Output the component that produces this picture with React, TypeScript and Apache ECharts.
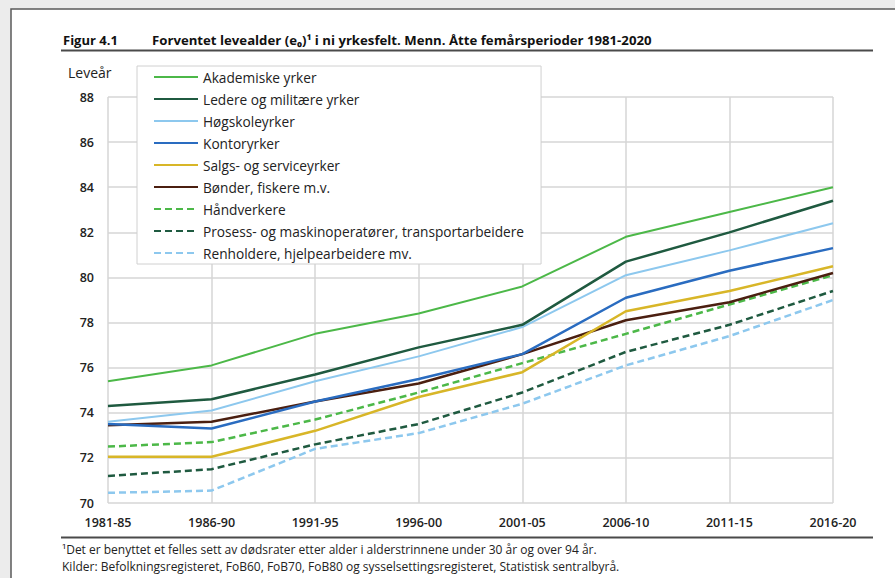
import React, { useEffect, useRef } from "react";
import * as echarts from "echarts";

const categories = ["1981-85", "1986-90", "1991-95", "1996-00", "2001-05", "2006-10", "2011-15", "2016-20"];
const yTicks = [70, 72, 74, 76, 78, 80, 82, 84, 86, 88];

const seriesNames = [
  "Akademiske yrker",
  "Ledere og militære yrker",
  "Høgskoleyrker",
  "Kontoryrker",
  "Salgs- og serviceyrker",
  "Bønder, fiskere m.v.",
  "Håndverkere",
  "Prosess- og maskinoperatører, transportarbeidere",
  "Renholdere, hjelpearbeidere mv.",
];

const akademiske = [75.4, 76.1, 77.5, 78.4, 79.6, 81.8, 82.9, 84.0];
const ledere = [74.3, 74.6, 75.7, 76.9, 77.9, 80.7, 82.0, 83.4];
const hogskole = [73.6, 74.1, 75.4, 76.5, 77.8, 80.1, 81.2, 82.4];
const kontor = [73.5, 73.3, 74.5, 75.5, 76.6, 79.1, 80.3, 81.3];
const salgs = [72.05, 72.05, 73.2, 74.7, 75.8, 78.5, 79.4, 80.5];
const bonder = [73.45, 73.6, 74.5, 75.3, 76.6, 78.1, 78.9, 80.2];
const handverkere = [72.5, 72.7, 73.7, 74.9, 76.2, 77.5, 78.8, 80.1];
const prosess = [71.2, 71.5, 72.6, 73.5, 74.9, 76.7, 77.9, 79.4];
const renholdere = [70.45, 70.55, 72.4, 73.1, 74.4, 76.1, 77.4, 79.0];

const seriesData = [akademiske, ledere, hogskole, kontor, salgs, bonder, handverkere, prosess, renholdere];
const seriesColors = ["#4cb848", "#1f5a40", "#8dc8ee", "#2a6cc0", "#d8b628", "#4b1f10", "#4cb848", "#1f5a40", "#8dc8ee"];
const seriesDashed = [false, false, false, false, false, false, true, true, true];
const seriesWidths = [2, 2.5, 2, 2.5, 2.5, 2.5, 2.5, 2.5, 2.5];

const FONT = "'Open Sans', sans-serif";

export default function App() {
  const ref = useRef<HTMLDivElement>(null);
  useEffect(() => {
    if (!ref.current) return;
    const chart = echarts.init(ref.current, undefined, { renderer: "svg" });
    chart.setOption({
      animation: false,
      backgroundColor: "#ececec",
      textStyle: { fontFamily: FONT },
      graphic: [
        {
          type: "rect",
          shape: { x: 11, y: 9, width: 900, height: 600 },
          style: { fill: "#ffffff", stroke: "#5a5a5a", lineWidth: 1.5 },
          z: -10,
        },
        {
          type: "text",
          x: 63,
          y: 40,
          style: { text: "Figur 4.1", font: `bold 13px ${FONT}`, fill: "#111", textVerticalAlign: "middle" },
        },
        {
          type: "text",
          x: 152,
          y: 40,
          style: {
            text: "Forventet levealder (e₀)¹ i ni yrkesfelt. Menn. Åtte femårsperioder 1981-2020",
            font: `bold 13.2px ${FONT}`,
            fill: "#111",
            textVerticalAlign: "middle",
          },
        },
        {
          type: "line",
          shape: { x1: 61, y1: 50.5, x2: 873, y2: 50.5 },
          style: { stroke: "#4a4a4a", lineWidth: 2 },
        },
        {
          type: "line",
          shape: { x1: 61, y1: 537.5, x2: 873, y2: 537.5 },
          style: { stroke: "#4a4a4a", lineWidth: 2 },
        },
        {
          type: "text",
          x: 68,
          y: 72,
          style: { text: "Leveår", font: `14px ${FONT}`, fill: "#222", textVerticalAlign: "middle" },
        },
        {
          type: "text",
          x: 62,
          y: 549,
          style: {
            text: "¹Det er benyttet et felles sett av dødsrater etter alder i alderstrinnene under 30 år og over 94 år.",
            font: `12px ${FONT}`,
            fill: "#222",
            textVerticalAlign: "middle",
          },
        },
        {
          type: "text",
          x: 62,
          y: 566,
          style: {
            text: "Kilder: Befolkningsregisteret, FoB60, FoB70, FoB80 og sysselsettingsregisteret, Statistisk sentralbyrå.",
            font: `12px ${FONT}`,
            fill: "#222",
            textVerticalAlign: "middle",
          },
        },
      ],
      legend: {
        orient: "vertical",
        left: 137,
        top: 66,
        itemWidth: 44,
        itemHeight: 14,
        itemGap: 8,
        padding: [4, 17, 4, 16],
        backgroundColor: "#ffffff",
        borderColor: "#d0d0d0",
        borderWidth: 1,
        itemStyle: { opacity: 0 },
        textStyle: { fontFamily: FONT, fontSize: 13.7, color: "#222" },
        data: seriesNames,
      },
      grid: { left: 108, right: 62, top: 97, bottom: 75, show: false },
      xAxis: {
        type: "category",
        data: categories,
        boundaryGap: false,
        axisLine: { show: false },
        axisTick: { show: false },
        axisLabel: { fontFamily: FONT, fontSize: 12.5, color: "#222", margin: 13, fontWeight: 600 },
        splitLine: { show: true, lineStyle: { color: "#d6d6d6", width: 1.5 } },
      },
      yAxis: {
        type: "value",
        min: yTicks[0],
        max: yTicks[yTicks.length - 1],
        interval: 2,
        axisLine: { show: false },
        axisTick: { show: false },
        axisLabel: { fontFamily: FONT, fontSize: 12.5, color: "#222", margin: 14, fontWeight: 600 },
        splitLine: { show: true, lineStyle: { color: "#d6d6d6", width: 1.5 } },
      },
      series: seriesNames.map((name, i) => ({
        name,
        type: "line",
        data: seriesData[i],
        symbol: "none",
        showSymbol: false,
        color: seriesColors[i],
        lineStyle: {
          color: seriesColors[i],
          width: seriesWidths[i],
          type: seriesDashed[i] ? [7, 4] : "solid",
        },
        z: 10 - i,
      })),
    });
    return () => chart.dispose();
  }, []);
  return (
    <div style={{ position: "fixed", left: 0, top: 0, width: 895, height: 578 }}>
      <div ref={ref} style={{ width: 895, height: 578 }} />
    </div>
  );
}
